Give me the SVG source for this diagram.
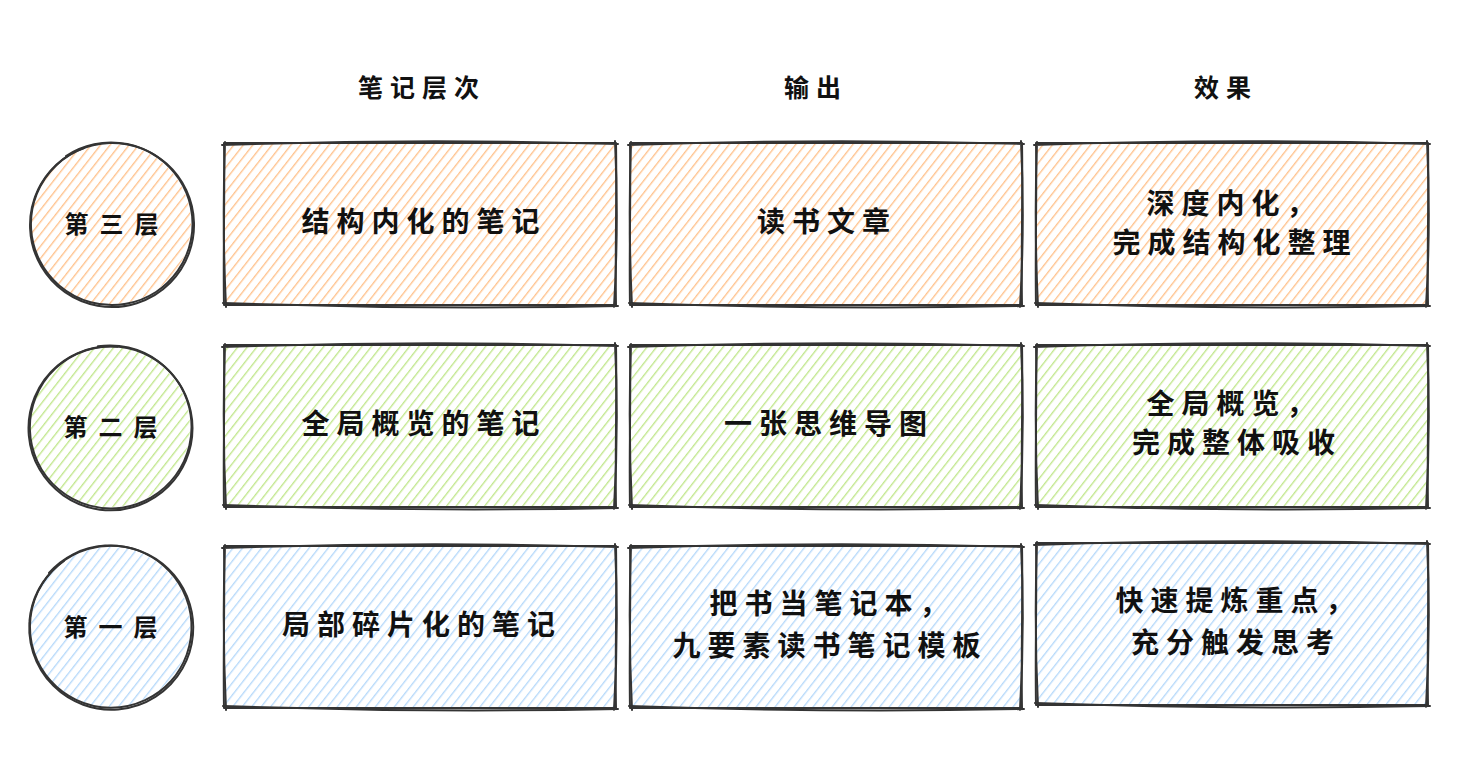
<svg xmlns="http://www.w3.org/2000/svg" xmlns:xlink="http://www.w3.org/1999/xlink" width="1477" height="758" viewBox="0 0 1477 758">
<defs>
<pattern id="hOrange" width="7.5" height="7.5" patternUnits="userSpaceOnUse" patternTransform="rotate(38)">
<line x1="3.5" y1="0" x2="3.5" y2="7.5" stroke="#ffc088" stroke-width="1.3"/>
</pattern>
<pattern id="hGreen" width="7.5" height="7.5" patternUnits="userSpaceOnUse" patternTransform="rotate(38)">
<line x1="3.5" y1="0" x2="3.5" y2="7.5" stroke="#bfe688" stroke-width="1.3"/>
</pattern>
<pattern id="hBlue" width="7.5" height="7.5" patternUnits="userSpaceOnUse" patternTransform="rotate(38)">
<line x1="3.5" y1="0" x2="3.5" y2="7.5" stroke="#b3d8fa" stroke-width="1.3"/>
</pattern>
<g id="boxOutline">
<path d="M0,0 C130,-1 262,1 392,0 C393,54 391,108 392,162 C262,163 130,161 0,162 C-1,108 1,54 0,0 Z"/>
<path d="M-2,2 Q196,-5 394,1 M391,-2 Q395,81 390,164 M394,163 Q196,167 -1,160 M2,164 Q-2,81 1,-1"/>
</g>
<g id="circleOutline">
<path d="M-45,-68 A81,81 0 0 1 45,68 A81,81 0 1 1 -27,-76"/>
<path d="M-76.1,-27 A82,82 0 0 1 78.1,29 A82,82 0 1 1 -51.7,-61.8"/>
</g>
</defs>
<style>
.sk{fill:none;stroke:#343434;stroke-width:2;stroke-linecap:round;stroke-linejoin:round}
.t{font-family:"Noto Sans CJK SC","Noto Sans CJK TC",sans-serif;font-weight:700;fill:#111;text-anchor:middle}
.hd{font-size:25px;letter-spacing:7px}
.bx{font-size:28px;letter-spacing:7px}
.cl{font-size:24px;letter-spacing:11px}
</style>
<rect width="1477" height="758" fill="#ffffff"/>

<g id="headers">
<text class="t hd" x="422" y="97">笔记层次</text>
<text class="t hd" x="816" y="97">输出</text>
<text class="t hd" x="1226" y="97">效果</text>
</g>

<g id="level3">
<circle cx="111" cy="224" r="80" fill="url(#hOrange)"/>
<use xlink:href="#circleOutline" class="sk" transform="translate(111,224)"/>
<text class="t cl" x="117" y="233">第三层</text>
</g>
<g id="level2">
<circle cx="110" cy="427" r="80" fill="url(#hGreen)"/>
<use xlink:href="#circleOutline" class="sk" transform="translate(110,427) rotate(25)"/>
<text class="t cl" x="116" y="436">第二层</text>
</g>
<g id="level1">
<circle cx="110" cy="627" r="80" fill="url(#hBlue)"/>
<use xlink:href="#circleOutline" class="sk" transform="translate(110,627) rotate(-15)"/>
<text class="t cl" x="116" y="636">第一层</text>
</g>

<g id="r3c1">
<rect x="224" y="143" width="392" height="162" fill="url(#hOrange)"/>
<use xlink:href="#boxOutline" class="sk" transform="translate(224,143)"/>
<text class="t bx" x="424" y="232">结构内化的笔记</text>
</g>
<g id="r3c2">
<rect x="630" y="143" width="392" height="161" fill="url(#hOrange)"/>
<use xlink:href="#boxOutline" class="sk" transform="translate(630,143)"/>
<text class="t bx" x="827" y="232">读书文章</text>
</g>
<g id="r3c3">
<rect x="1036" y="143" width="392" height="161" fill="url(#hOrange)"/>
<use xlink:href="#boxOutline" class="sk" transform="translate(1036,143)"/>
<text class="t bx" x="1234" y="214">深度内化，</text>
<text class="t bx" x="1235" y="253">完成结构化整理</text>
</g>

<g id="r2c1">
<rect x="224" y="345" width="392" height="162" fill="url(#hGreen)"/>
<use xlink:href="#boxOutline" class="sk" transform="translate(224,345)"/>
<text class="t bx" x="424" y="434">全局概览的笔记</text>
</g>
<g id="r2c2">
<rect x="630" y="345" width="392" height="162" fill="url(#hGreen)"/>
<use xlink:href="#boxOutline" class="sk" transform="translate(630,345)"/>
<text class="t bx" x="829" y="434">一张思维导图</text>
</g>
<g id="r2c3">
<rect x="1036" y="345" width="392" height="162" fill="url(#hGreen)"/>
<use xlink:href="#boxOutline" class="sk" transform="translate(1036,345)"/>
<text class="t bx" x="1234" y="414">全局概览，</text>
<text class="t bx" x="1237" y="453">完成整体吸收</text>
</g>

<g id="r1c1">
<rect x="224" y="546" width="392" height="161" fill="url(#hBlue)"/>
<use xlink:href="#boxOutline" class="sk" transform="translate(224,546)"/>
<text class="t bx" x="422" y="635">局部碎片化的笔记</text>
</g>
<g id="r1c2">
<rect x="630" y="546" width="392" height="161" fill="url(#hBlue)"/>
<use xlink:href="#boxOutline" class="sk" transform="translate(630,546)"/>
<text class="t bx" x="832" y="614">把书当笔记本，</text>
<text class="t bx" x="830" y="656">九要素读书笔记模板</text>
</g>
<g id="r1c3">
<rect x="1036" y="543" width="392" height="162" fill="url(#hBlue)"/>
<use xlink:href="#boxOutline" class="sk" transform="translate(1036,543)"/>
<text class="t bx" x="1238" y="611">快速提炼重点，</text>
<text class="t bx" x="1236" y="653">充分触发思考</text>
</g>
</svg>
